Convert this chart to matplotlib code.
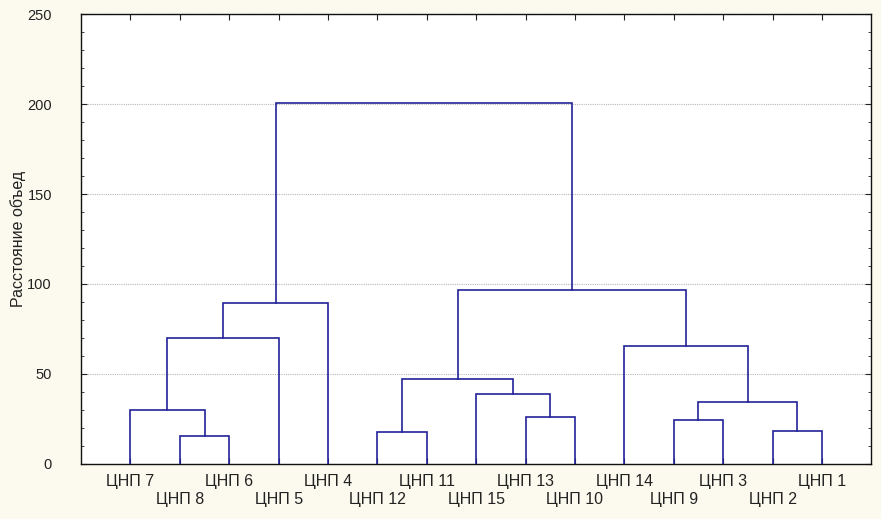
import matplotlib
matplotlib.use("Agg")
import matplotlib.pyplot as plt
from matplotlib.ticker import MultipleLocator

plt.rcParams['font.family'] = ['Liberation Sans', 'DejaVu Sans']

# leaf order along the x axis (left to right)
leaves = ["ЦНП 7", "ЦНП 8", "ЦНП 6", "ЦНП 5", "ЦНП 4",
          "ЦНП 12", "ЦНП 11", "ЦНП 15", "ЦНП 13", "ЦНП 10",
          "ЦНП 14", "ЦНП 9", "ЦНП 3", "ЦНП 2", "ЦНП 1"]

# joins: (left member, right member, linkage distance, new name)
# members are leaf labels or names of earlier joins
joins = [
    ("ЦНП 8", "ЦНП 6", 15.8, "a"),
    ("ЦНП 7", "a", 30.1, "b"),
    ("b", "ЦНП 5", 69.9, "c"),
    ("c", "ЦНП 4", 89.2, "d"),
    ("ЦНП 12", "ЦНП 11", 18.0, "e"),
    ("ЦНП 13", "ЦНП 10", 26.0, "f"),
    ("ЦНП 15", "f", 39.0, "g"),
    ("e", "g", 47.4, "h"),
    ("ЦНП 9", "ЦНП 3", 24.3, "i"),
    ("ЦНП 2", "ЦНП 1", 18.4, "j"),
    ("i", "j", 34.2, "k"),
    ("ЦНП 14", "k", 65.6, "l"),
    ("h", "l", 96.4, "m"),
    ("d", "m", 200.7, "n"),
]

fig = plt.figure(figsize=(8.81, 5.19), dpi=100)
fig.patch.set_facecolor("#fcfaee")
ax = fig.add_axes([0.092, 0.106, 0.897, 0.867])
ax.set_facecolor("white")

line_col = "#23239a"
pos = {name: (i + 1, 0.0) for i, name in enumerate(leaves)}
for left, right, h, name in joins:
    x1, y1 = pos[left]
    x2, y2 = pos[right]
    ax.plot([x1, x1, x2, x2], [y1, h, h, y2], color=line_col, lw=1.2,
            solid_joinstyle="miter", zorder=3)
    pos[name] = ((x1 + x2) / 2, h)

ax.set_xlim(0, len(leaves) + 1)
ax.set_ylim(0, 250)

ax.yaxis.set_major_locator(MultipleLocator(50))
ax.yaxis.set_minor_locator(MultipleLocator(10))
ax.set_xticks(range(1, len(leaves) + 1))
ax.set_xticklabels([])
ax.tick_params(axis="both", which="both", direction="in", top=True, right=True,
               labelsize=10.5, colors="#222222")
ax.tick_params(axis="both", which="major", length=4)
ax.tick_params(axis="y", which="minor", length=2.5)
ax.tick_params(axis="y", pad=21)

ax.grid(axis="y", which="major", linestyle=(0, (1, 1)), color="#b8b8b8", lw=0.8)
ax.set_axisbelow(True)
for s in ax.spines.values():
    s.set_color("#111111")
    s.set_linewidth(1.0)

# staggered leaf labels
for i, name in enumerate(leaves):
    yoff = -0.022 if i % 2 == 0 else -0.062
    ax.text(i + 1, yoff, name, transform=ax.get_xaxis_transform(),
            ha="center", va="top", fontsize=11.5, color="#222222")

ax.set_ylabel("Расстояние объед", fontsize=11.5, color="#222222",
              va="center", ha="center")
ax.yaxis.set_label_coords(-0.080, 0.5)

fig.savefig("out.png", dpi=100, facecolor=fig.get_facecolor())
